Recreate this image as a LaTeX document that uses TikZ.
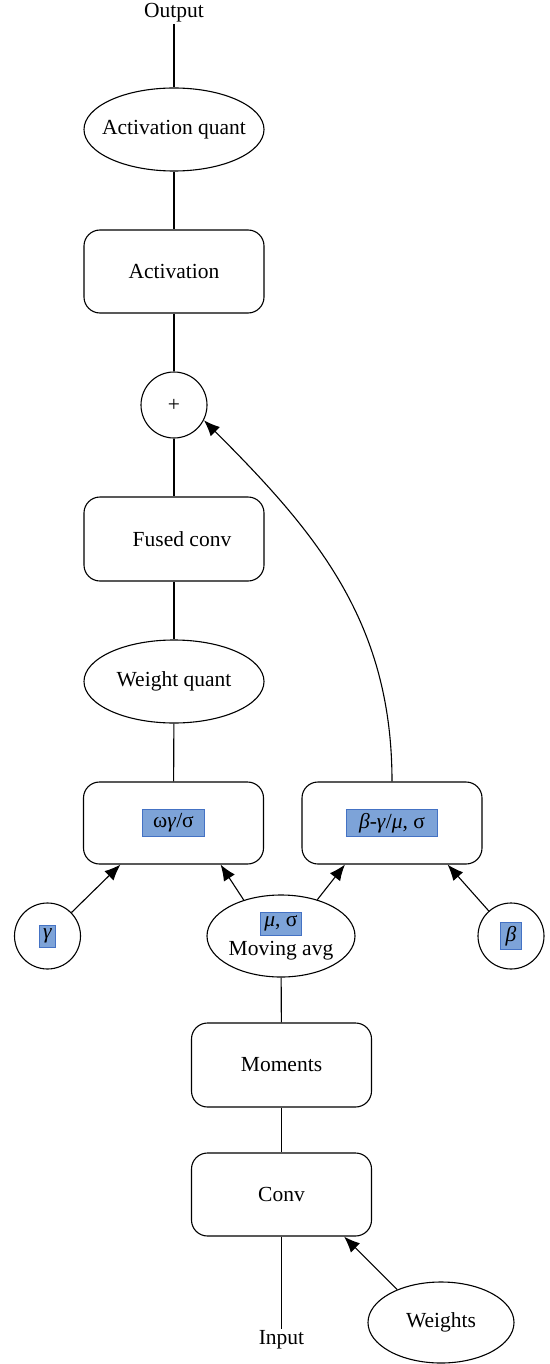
\documentclass[tikz,border=0pt]{standalone}
\usepackage{fontspec}
\setmainfont{Liberation Serif}
\usepackage{tikz}
\usetikzlibrary{arrows.meta,shapes.geometric,calc}
\definecolor{hlfill}{RGB}{125,163,216}
\definecolor{hlline}{RGB}{68,114,196}
% shaded tag for the folded parameters, optional side padding
\newcommand{\hlbox}[2][0pt]{{\setlength{\fboxsep}{3.5pt}\setlength{\fboxrule}{0.7pt}%
  \fcolorbox{hlline}{hlfill}{\hspace*{#1}#2\hspace*{#1}}}}

\begin{document}
\begin{tikzpicture}[x=1pt, y=1pt, line width=1.1pt, font=\fontsize{21.5}{26}\selectfont,
    box/.style={draw, rounded corners=16pt, minimum width=180pt, minimum height=83pt},
    oval/.style={draw, ellipse, inner sep=0pt},
    rnd/.style={draw, circle, inner sep=0pt},
    lbl/.style={inner sep=1pt},
    arr/.style={-{Latex[length=16pt,width=13pt]}}]
  \useasboundingbox (0,0) rectangle (549,-1364);

  % output side
  \node[lbl] (out) at (174,-13) {Output};
  \node[oval, inner xsep=-10pt, minimum width=180pt, minimum height=83pt] (actq) at (174,-129.5) {Activation quant};
  \node[box] (act) at (174,-271.5) {Activation};
  \node[rnd, minimum size=66pt] (plus) at (174,-405) {+};
  \node[box, minimum height=84pt] (fconv) at (174,-539) {\hspace*{16pt}Fused conv};
  \node[oval, minimum width=180pt, minimum height=83pt] (wq) at (174,-681.5) {Weight quant};

  % folding
  \node[box, minimum height=82pt] (wbox) at (173.5,-823) {\hlbox[7pt]{ω\textit{γ}/σ}};
  \node[box, minimum height=82pt] (bbox) at (392,-823) {\hlbox[9pt]{\textit{β}-\textit{γ}/\textit{μ}, σ}};
  \node[rnd, minimum size=66pt] (gam) at (47.5,-936) {\hlbox{\textit{γ}}};
  \node[rnd, minimum size=66pt] (bet) at (511,-936) {\hlbox[1.5pt]{\textit{β}}};
  \node[oval, minimum width=148pt, minimum height=82pt, align=center] (mavg) at (281,-936)
    {\hlbox{\textit{μ}, σ}\\[3pt]Moving avg};

  % input side
  \node[box, minimum height=84pt] (mom) at (281.5,-1065) {Moments};
  \node[box] (conv) at (281.5,-1194.5) {Conv};
  \node[lbl] (inp) at (281.5,-1340) {Input};
  \node[oval, minimum width=146pt, minimum height=81pt] (wts) at (441,-1322.5) {Weights};

  \draw (out) -- (actq);
  \draw (actq) -- (act);
  \draw (act) -- (plus);
  \draw (plus) -- (fconv);
  \draw (fconv) -- (wq);
  \draw (wq) -- (wbox);
  \draw (mavg) -- (mom);
  \draw (mom) -- (conv);
  \draw (conv) -- (inp);

  \draw[arr] (gam) -- ([xshift=37.5pt]wbox.south west);
  \draw[arr] (mavg.136) -- ([xshift=-43.5pt]wbox.south east);
  \draw[arr] (mavg.45) -- ([xshift=43.5pt]bbox.south west);
  \draw[arr] (bet) -- ([xshift=-35pt]bbox.south east);
  \draw[arr] (wts.143) -- ([xshift=-28pt]conv.south east);
  \draw[arr] (bbox.north) to[out=90, in=-45] (plus.-27);
\end{tikzpicture}
\end{document}
